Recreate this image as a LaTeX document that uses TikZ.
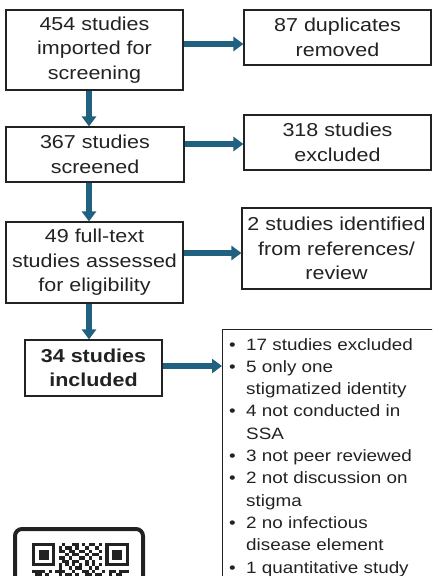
\documentclass[tikz,border=0pt]{standalone}
\usepackage{fontspec}
\setmainfont[FakeStretch=1.15]{Liberation Sans}
\usetikzlibrary{arrows.meta}
\definecolor{arrblue}{RGB}{33,97,128}
\definecolor{ink}{RGB}{34,34,34}
\begin{document}
\begin{tikzpicture}[x=1pt,y=-1pt,
  box/.style={draw=ink, line width=1.1pt, align=center, inner sep=0pt, text=ink,
    font=\fontsize{18.7}{24.5}\selectfont},
  arr/.style={draw=arrblue, line width=6.5pt, -{Triangle[length=10pt,width=14pt]}},
  qrmod/.style={fill=ink},
]
\path[use as bounding box] (0,0) rectangle (432,576);
\clip (0,0) rectangle (432,576);

% boxes
\node[box, minimum width=177pt, minimum height=80pt] (b1) at (94.5,50) {454 studies\\imported for\\screening};
\node[box, minimum width=187pt, minimum height=55pt] (dup) at (337.5,37.5) {87 duplicates\\removed};
\node[box, minimum width=178pt, minimum height=55pt] (b2) at (95,154.5) {367 studies\\screened};
\node[box, minimum width=187pt, minimum height=55pt] (exc1) at (337.5,142.5) {318 studies\\excluded};
\node[box, minimum width=177pt, minimum height=81pt] (b3) at (94.5,262.5) {49 full-text\\studies assessed\\for eligibility};
\node[box, minimum width=189pt, minimum height=81pt] (ident) at (336.5,248.5) {2 studies identified\\from references/\\review};
\node[box, minimum width=137pt, minimum height=56pt, font=\fontsize{18.7}{24.5}\selectfont\bfseries] (b4) at (93.5,368) {34 studies\\included};
\node[draw=ink, line width=1.1pt, minimum width=230pt, minimum height=290pt, inner sep=0pt, anchor=north west] (excl) at (222,329) {};
\node[anchor=base west, inner sep=0pt, text=ink, font=\fontsize{16.4}{22.3}\selectfont] (excltxt) at (229,350) {%
  \begin{tabular}[t]{@{}p{11pt}@{\hspace{6pt}}l@{}}
  \textbullet & 17 studies excluded\\
  \textbullet & 5 only one\\
   & stigmatized identity\\
  \textbullet & 4 not conducted in\\
   & SSA\\
  \textbullet & 3 not peer reviewed\\
  \textbullet & 2 not discussion on\\
   & stigma\\
  \textbullet & 2 no infectious\\
   & disease element\\
  \textbullet & 1 quantitative study
  \end{tabular}};

% arrow guide coordinates
\coordinate (vx) at (89,0);
\coordinate (h1) at (0,44);
\coordinate (h2) at (0,144);
\coordinate (h3) at (0,253);
\coordinate (h4) at (0,366);

% vertical arrows
\draw[arr] (b1.south -| vx) -- (b2.north -| vx);
\draw[arr] (b2.south -| vx) -- (b3.north -| vx);
\draw[arr] (b3.south -| vx) -- (b4.north -| vx);
% horizontal arrows
\draw[arr] (b1.east |- h1) -- (dup.west |- h1);
\draw[arr] (b2.east |- h2) -- (exc1.west |- h2);
\draw[arr] (b3.east |- h3) -- (ident.west |- h3);
\draw[arr] (b4.east |- h4) -- (excl.west |- h4);

% QR code (partially visible)
\draw[ink, line width=4pt, rounded corners=7pt] (15,529) rectangle (143,620);
\begin{scope}[shift={(32,543)}, x=3.34pt, y=-3.34pt]
  % finder patterns
  \foreach \fx in {0,22} {
    \fill[ink] (\fx,0) rectangle ++(7,7);
    \fill[white] (\fx+1,1) rectangle ++(5,5);
    \fill[ink] (\fx+2,2) rectangle ++(3,3);
  }
  \foreach \r/\cs in {
    0/{9,12,13,15,17,18,20},
    1/{8,10,11,13,16,19},
    2/{8,9,11,12,14,15,17,20},
    3/{10,12,13,16,18,19},
    4/{8,9,11,14,15,17,20},
    5/{9,10,12,13,16,18},
    6/{8,10,12,14,16,18,20},
    7/{8,11,13,14,17,19},
    8/{0,1,2,3,5,7,8,9,12,15,16,18,21,23,24,26,27,28},
    9/{1,2,4,8,10,11,13,16,17,19,20,23,25,26}} {
    \foreach \c in \cs { \fill[ink] (\c,\r) rectangle ++(1,1); }
  }
\end{scope}
\end{tikzpicture}
\end{document}
